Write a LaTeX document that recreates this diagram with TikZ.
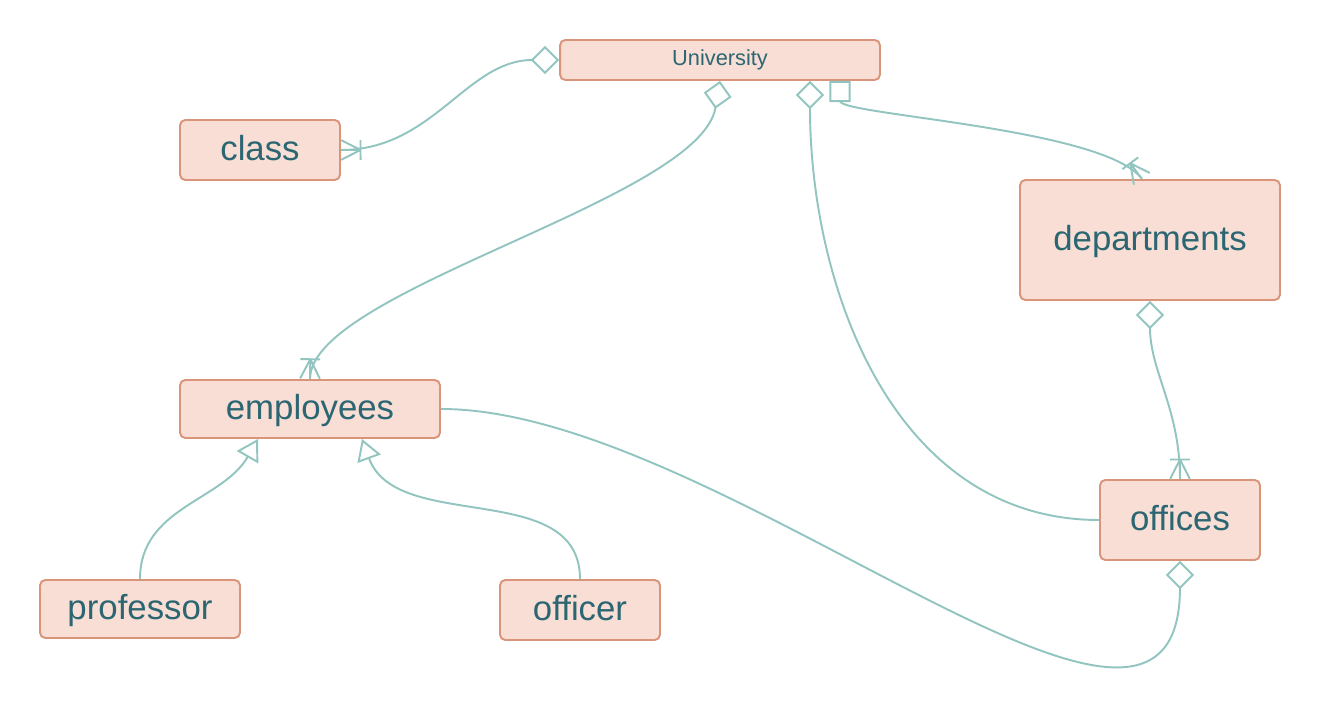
\documentclass[tikz,border=0pt]{standalone}
\usepackage{fontspec}
\setmainfont{Liberation Sans}
\usetikzlibrary{arrows.meta,decorations.markings}
\definecolor{boxfill}{RGB}{248,222,212}
\definecolor{boxline}{RGB}{218,148,122}
\definecolor{boxtext}{RGB}{43,102,114}
\definecolor{link}{RGB}{146,197,191}
\begin{document}
\begin{tikzpicture}[x=0.02cm,y=0.02cm]
                \tikzstyle{entity}=[draw=boxline,fill=boxfill,text=boxtext,line width=1.1pt,rounded corners=3pt,inner sep=0pt,text height=14pt,text depth=2.6pt,font=\fontsize{19.8}{24}\selectfont]
                \tikzstyle{rel}=[draw=link,line width=1.1pt]
                \tikzstyle{manyone}=[postaction={decorate,decoration={markings,mark=at position 0.999 with {\draw[link,line width=1.1pt,arrows=-] (-11pt,0) -- (0,5.6pt) (-11pt,0) -- (0,-5.6pt) (-11pt,0) -- (0,0) (-11pt,5.6pt) -- (-11pt,-5.6pt);}}}]
                \tikzstyle{agg}=[{Diamond[open,length=16pt,width=16pt]}-]
                \tikzstyle{comp}=[{Square[open,length=12pt,width=12pt]}-]
                \tikzstyle{isa}=[-{Triangle[open,length=12pt,width=14pt]}]
                
                \useasboundingbox (0,0) rectangle (1320,-705);
                
                \node[entity,minimum width=6.4cm,minimum height=0.8cm,text height=9pt,text depth=2.6pt,font=\fontsize{12.4}{15}\selectfont] (university) at (720,-60) {University};
                \node[entity,minimum width=3.2cm,minimum height=1.2cm] (class) at (260,-150) {class};
                \node[entity,minimum width=5.2cm,minimum height=2.4cm] (departments) at (1150,-240) {departments};
                \node[entity,minimum width=5.2cm,minimum height=1.16cm] (employees) at (310,-409) {employees};
                \node[entity,minimum width=3.2cm,minimum height=1.6cm] (offices) at (1180,-520) {offices};
                \node[entity,minimum width=4cm,minimum height=1.16cm] (professor) at (140,-609) {professor};
                \node[entity,minimum width=3.2cm,minimum height=1.2cm] (officer) at (580,-610) {officer};
                
                \draw[rel,agg,manyone] (university.west) to[out=180,in=0] (class.east);
                \draw[rel,agg,manyone] (university.south) .. controls (700,-200) and (310,-290) .. (employees.north);
                \draw[rel,agg] ([xshift=1.8cm]university.south) to[out=-90,in=180] (offices.west);
                \draw[rel,comp,manyone] ([xshift=2.4cm]university.south) .. controls (840,-115) and (1105,-128) .. ([xshift=-0.16cm]departments.north);
                \draw[rel,agg,manyone] (departments.south) to[out=-90,in=90] (offices.north);
                \draw[rel,agg] (offices.south) to[out=-90,in=0,looseness=0.95] (employees.east);
                
                \draw[rel,isa] (professor.north) to[out=90,in=-120] ([xshift=-1.04cm]employees.south);
                \draw[rel,isa] (officer.north) to[out=90,in=-70] ([xshift=1.04cm]employees.south);
                
                \end{tikzpicture}
\end{document}
